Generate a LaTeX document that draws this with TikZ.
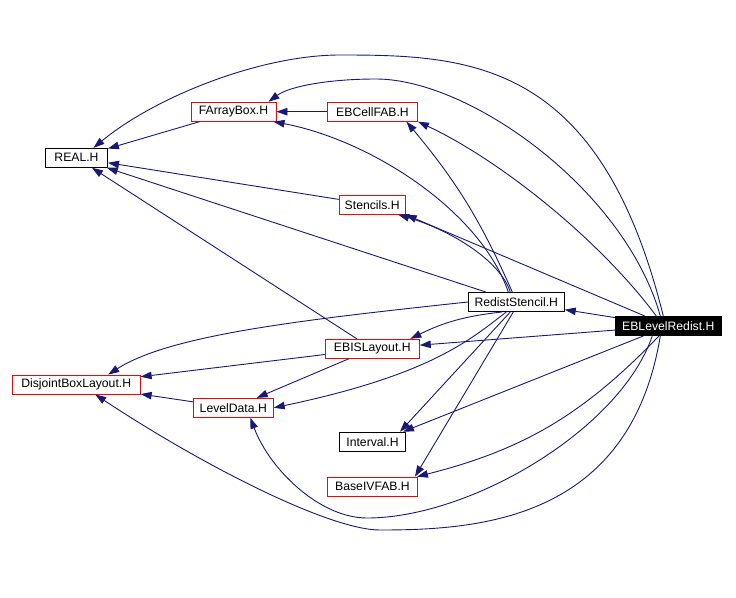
\documentclass[tikz,border=0pt]{standalone}
\usepackage{fontspec}
\setmainfont{Liberation Sans}
\usepackage{tikz}
\usetikzlibrary{positioning,arrows.meta}
\definecolor{edgeblue}{RGB}{25,25,112}

\begin{document}
\begin{tikzpicture}[
    x=1pt,y=-1pt,
    font=\fontsize{12.2}{14}\selectfont,
    hdr/.style   ={draw=black,line width=0.9pt,minimum height=19pt,inner sep=1pt},
    redhdr/.style={hdr,draw=red},
    tophdr/.style={hdr,fill=black,text=white},
    dep/.style   ={draw=edgeblue,line width=0.9pt,-{Triangle[length=11pt,width=7.5pt]}},
    ]
    \useasboundingbox (0,0) rectangle (736,597);

    \node[hdr,minimum width=62pt]     (real)     at (76.5,157.8)  {REAL.H};
    \node[redhdr,minimum width=85pt]  (farray)   at (233.5,111.7) {FArrayBox.H};
    \node[redhdr,minimum width=90pt,right=50.6pt of farray] (ebcell) {EBCellFAB.H};
    \node[redhdr,minimum width=66pt]  (stencils) at (372.2,204.7) {Stencils.H};
    \node[hdr,minimum width=96pt]     (redist)   at (516.3,302)   {RedistStencil.H};
    \node[tophdr,minimum width=106pt] (elr)      at (668.3,326)   {EBLevelRedist.H};
    \node[redhdr,minimum width=94pt]  (ebis)     at (372.3,348.8) {EBISLayout.H};
    \node[redhdr,minimum width=128pt] (dbl)      at (76.2,384.5)  {DisjointBoxLayout.H};
    \node[redhdr,minimum width=80pt]  (level)    at (233.3,407.8) {LevelData.H};
    \node[hdr,minimum width=66pt]     (interval) at (372.5,441.7) {Interval.H};
    \node[redhdr,minimum width=90pt,below=25pt of interval] (baseiv) {BaseIVFAB.H};

    % includes of the small headers
    \draw[dep] (ebcell) -- (farray);
    \draw[dep] (farray) -- (real);
    \draw[dep] (stencils) -- (real);
    \draw[dep] (ebis) -- (real);
    \draw[dep] (ebis) -- (dbl);
    \draw[dep] (ebis) -- (level);
    \draw[dep] (level) -- (dbl);

    % RedistStencil.H
    \draw[dep] (redist) -- (real);
    \draw[dep] ([xshift=-8pt]redist.north) .. controls (480,210) and (370,140) .. ([xshift=40pt]farray.south);
    \draw[dep] ([xshift=-4pt]redist.north) to[bend right=8] ([xshift=34pt]ebcell.south);
    \draw[dep] ([xshift=-6pt]redist.north) .. controls (500,260) and (450,230) .. ([xshift=26pt]stencils.south);
    \draw[dep] ([xshift=-14pt]redist.south) to[bend right=10] ([xshift=38pt]ebis.north);
    \draw[dep] (redist.west) .. controls (300,320) and (170,335) .. ([xshift=32pt]dbl.north);
    \draw[dep] ([xshift=-10pt]redist.south) .. controls (470,340) and (430,375) .. (level.east);
    \draw[dep] ([xshift=-6pt]redist.south) -- ([xshift=-6pt]interval.north east);
    \draw[dep] ([xshift=-3pt]redist.south) -- ([xshift=-3pt]baseiv.north east);

    % EBLevelRedist.H
    \draw[dep] ([xshift=-5pt]elr.north) .. controls (600,60) and (470,55) .. (340,55)
      .. controls (260,55) and (155,97) .. ([xshift=17pt]real.north);
    \draw[dep] ([xshift=-8pt]elr.north) .. controls (625,190) and (470,79) .. (376,79)
      .. controls (330,79) and (290,86) .. ([xshift=35pt]farray.north);
    \draw[dep] ([xshift=-12pt]elr.north) .. controls (600,240) and (500,160) .. (ebcell.south east);
    \draw[dep] (elr) -- (stencils.south east);
    \draw[dep] (elr) -- (redist);
    \draw[dep] (elr) -- (ebis);
    \draw[dep] (elr) -- ([xshift=-3pt]interval.north east);
    \draw[dep] (elr) to[bend left=16] ([xshift=-1pt]baseiv.north east);
    \draw[dep] ([xshift=-16pt]elr.south) .. controls (620,430) and (470,518) .. (367,518)
      .. controls (320,518) and (270,470) .. ([xshift=17pt]level.south);
    \draw[dep] ([xshift=-8pt]elr.south) .. controls (630,520) and (480,530) .. (380,530)
      .. controls (330,530) and (205,467) .. ([xshift=19pt]dbl.south);
\end{tikzpicture}
\end{document}
